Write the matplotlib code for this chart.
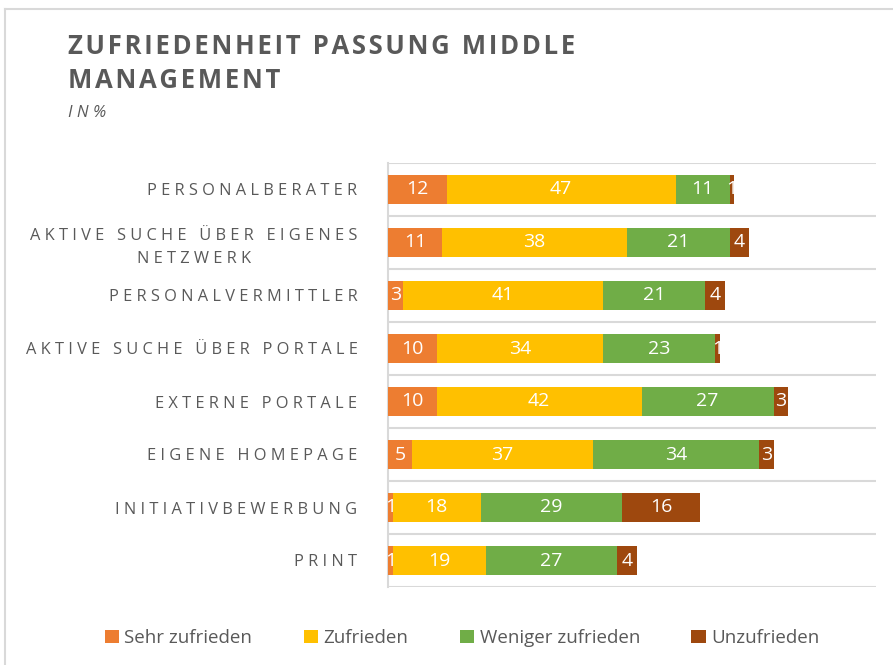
import matplotlib
matplotlib.use("Agg")
import matplotlib.pyplot as plt
import numpy as np
from matplotlib.lines import Line2D

categories = ["PERSONALBERATER", "AKTIVE SUCHE ÜBER EIGENES\nNETZWERK", "PERSONALVERMITTLER",
              "AKTIVE SUCHE ÜBER PORTALE", "EXTERNE PORTALE", "EIGENE HOMEPAGE",
              "INITIATIVBEWERBUNG", "PRINT"]
sehr_zufrieden = [12, 11, 3, 10, 10, 5, 1, 1]
zufrieden = [47, 38, 41, 34, 42, 37, 18, 19]
weniger_zufrieden = [11, 21, 21, 23, 27, 34, 29, 27]
unzufrieden = [1, 4, 4, 1, 3, 3, 16, 4]
series_names = ["Sehr zufrieden", "Zufrieden", "Weniger zufrieden", "Unzufrieden"]
colors = ["#ED7D31", "#FFC000", "#70AD47", "#9E480E"]

TXT = "#595959"
GRID = "#D9D9D9"
FONT = ["Open Sans", "DejaVu Sans"]
plt.rcParams['font.family'] = FONT

def spaced(s, gap=" ", wordgap="   "):
    lines = []
    for line in s.split("\n"):
        words = line.split(" ")
        lines.append(wordgap.join(gap.join(list(w)) for w in words))
    return "\n".join(lines)

fig = plt.figure(figsize=(8.93, 6.65), dpi=100)
ax = fig.add_axes([388/893, 1-587/665, (876-388)/893, (587-163)/665])

y = np.arange(len(categories))
left = np.zeros(len(categories))
for vals, name, col in zip([sehr_zufrieden, zufrieden, weniger_zufrieden, unzufrieden], series_names, colors):
    vals = np.array(vals, dtype=float)
    bars = ax.barh(y, vals, left=left, height=0.55, color=col, label=name, zorder=3)
    for b, v in zip(bars, vals):
        ax.text(b.get_x() + b.get_width()/2, b.get_y() + b.get_height()/2, f"{int(v)}",
                ha="center", va="center", color="white", fontsize=14, zorder=4)
    left += vals

ax.set_xlim(0, 100)
ax.set_ylim(len(categories)-0.5, -0.5)
ax.set_yticks(y)
ax.set_yticklabels([spaced(c) for c in categories], fontsize=11.8, color=TXT,
                   multialignment="center", linespacing=1.55)
ax.tick_params(axis="y", length=0, pad=22)
ax.set_yticks(np.arange(len(categories)+1)-0.5, minor=True)
ax.tick_params(axis="y", which="minor", length=0)
ax.set_xticks([])
ax.grid(axis="y", which="minor", color=GRID, lw=1.5, zorder=0)
for s in ["top", "right", "bottom"]:
    ax.spines[s].set_visible(False)
ax.spines["left"].set_color(GRID)
ax.spines["left"].set_linewidth(1.5)

# titles
tgap = "\u200a"
fig.text(68/893, 1-47/665, spaced("ZUFRIEDENHEIT PASSUNG MIDDLE", gap=tgap, wordgap=tgap + " " + tgap),
         fontsize=18.5, fontweight="bold", color=TXT, ha="left", va="center")
fig.text(68/893, 1-81/665, spaced("MANAGEMENT", gap=tgap), fontsize=18.5, fontweight="bold",
         color=TXT, ha="left", va="center")
fig.text(68/893, 1-113/665, "I N %", fontsize=12, fontstyle="italic",
         color=TXT, ha="left", va="center")

# legend
fig.legend(loc="center", bbox_to_anchor=(462/893, 1-638/665), ncol=4, frameon=False,
           fontsize=13.5, labelcolor=TXT, handlelength=0.75, handleheight=0.75,
           handletextpad=0.3, columnspacing=2.75)

# outer frame
fig.add_artist(Line2D([5/893, 5/893], [0, 1-9/665], color=GRID, lw=1.5))
fig.add_artist(Line2D([5/893, 1], [1-9/665, 1-9/665], color=GRID, lw=1.5))

fig.savefig("out.png", dpi=100)
